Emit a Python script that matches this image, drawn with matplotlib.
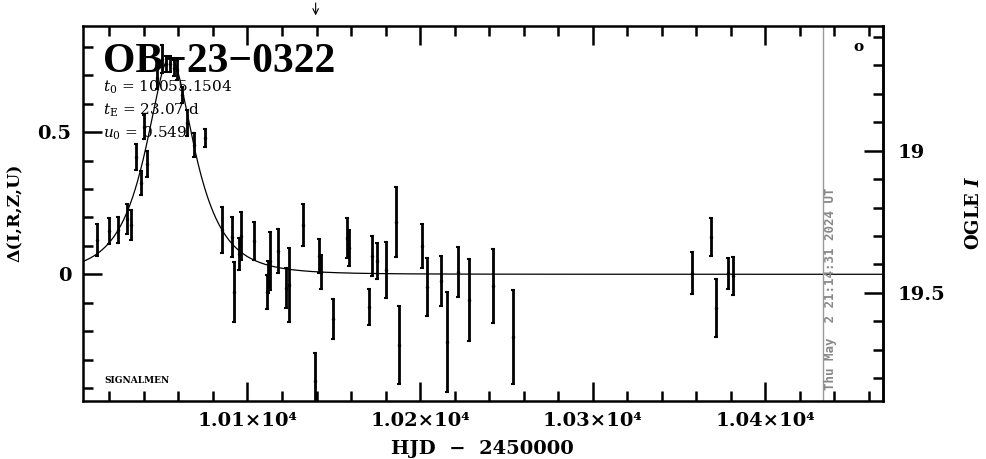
## OB-23-0322 light curve (delta mag vs HJD)

import numpy as np
import matplotlib
matplotlib.use('Agg')
from matplotlib import pyplot as plt
from matplotlib.ticker import MultipleLocator, FuncFormatter

plt.rcParams['font.family'] = ['DejaVu Serif']
plt.rcParams['mathtext.fontset'] = 'dejavuserif'

# Data
hjd = [10012.8, 10019.7, 10024.9, 10030.1, 10032.5, 10035.4, 10038.3, 10040.0,
       10041.7, 10047.5, 10050.4, 10052.8, 10055.1, 10057.4, 10059.1, 10062.0,
       10064.9, 10069.0, 10075.4,
       10085.0, 10091.2, 10092.3, 10095.2, 10096.5, 10103.9, 10111.1, 10112.1,
       10113.2, 10117.9, 10122.1, 10123.9, 10132.0, 10139.1, 10141.4, 10142.8,
       10149.4, 10157.4, 10159.0, 10170.3, 10172.0, 10175.1, 10180.1, 10185.9,
       10188.0, 10201.3, 10204.2, 10212.2, 10215.8, 10222.2, 10228.2, 10242.1,
       10254.1,
       10357.9, 10368.7, 10371.6, 10378.7, 10381.6]
dmag = [0.121, 0.152, 0.156, 0.195, 0.174, 0.413, 0.322, 0.519,
        0.388, 0.691, 0.758, 0.740, 0.740, 0.726, 0.719, 0.631,
        0.533, 0.456, 0.480,
        0.156, 0.131, -0.062, 0.071, 0.135, 0.117, -0.062, -0.010,
        0.046, 0.082, -0.048, -0.038, 0.174, -0.376, 0.064, 0.008,
        -0.157, 0.128, 0.093, -0.115, 0.064, 0.047, 0.015, 0.184,
        -0.249, 0.100, -0.045, -0.024, -0.238, 0.008, -0.090, -0.041,
        -0.221,
        0.005, 0.131, -0.119, 0.003, -0.006]
derr = [0.056, 0.046, 0.046, 0.053, 0.053, 0.046, 0.042, 0.042,
        0.046, 0.039, 0.049, 0.028, 0.028, 0.028, 0.035, 0.028,
        0.046, 0.042, 0.032,
        0.081, 0.070, 0.106, 0.056, 0.085, 0.067, 0.060, 0.056,
        0.102, 0.077, 0.070, 0.130, 0.074, 0.099, 0.060, 0.060,
        0.070, 0.070, 0.063, 0.063, 0.070, 0.063, 0.099, 0.123,
        0.137, 0.077, 0.102, 0.088, 0.176, 0.088, 0.144, 0.130,
        0.165,
        0.074, 0.067, 0.102, 0.056, 0.067]

# Fit parameters
t0 = 10055.1504
tE = 23.07
u0 = 0.549
I_base = 19.435
now_hjd = 10433.6
arrow_hjd = 10139.5

# Paczynski model
t = np.linspace(10004.5, 10468.2, 2000)
u = np.sqrt(u0**2 + ((t - t0) / tE)**2)
A = (u**2 + 2) / (u * np.sqrt(u**2 + 4))
model = 2.5 * np.log10(A)

fig = plt.figure(figsize=(9.86, 4.59), dpi=100)
ax = fig.add_axes([0.0839, 0.127, 0.8114, 0.817])

ax.plot(t, model, color='k', lw=0.9)
ax.errorbar(hjd, dmag, yerr=derr, fmt='.', ms=3, color='k',
            elinewidth=2, capsize=1.5, capthick=1.5)
ax.axvline(now_hjd, color='#999999', lw=1)

ax.set_xlim(10004.5, 10468.2)
ax.set_ylim(-0.445, 0.875)

for s in ax.spines.values():
    s.set_linewidth(1.8)

ax.xaxis.set_major_locator(MultipleLocator(100))
ax.xaxis.set_minor_locator(MultipleLocator(20))
ax.xaxis.set_major_formatter(FuncFormatter(lambda v, p: '%.2f×10⁴' % (v / 1e4)))
ax.yaxis.set_major_locator(MultipleLocator(0.5))
ax.yaxis.set_minor_locator(MultipleLocator(0.1))
ax.yaxis.set_major_formatter(FuncFormatter(lambda v, p: '%g' % v))
ax.tick_params(which='both', direction='in', top=True, right=False, width=1.8)
ax.tick_params(which='major', length=14, labelsize=14, pad=8)
ax.tick_params(which='minor', length=7)
for lab in ax.get_xticklabels() + ax.get_yticklabels():
    lab.set_fontweight('bold')

ax.set_xlabel('HJD  −  2450000', fontsize=14, fontweight='bold', labelpad=7)
ax.set_ylabel('Δ(I,R,Z,U)', fontsize=12.5, fontweight='bold', labelpad=10)

# OGLE I magnitude on the right
sec = ax.secondary_yaxis('right', functions=(lambda d: I_base - d, lambda m: I_base - m))
sec.yaxis.set_major_locator(MultipleLocator(0.5))
sec.yaxis.set_minor_locator(MultipleLocator(0.1))
sec.yaxis.set_major_formatter(FuncFormatter(lambda v, p: '%g' % v))
sec.tick_params(which='both', direction='in', width=1.8)
sec.tick_params(which='major', length=14, labelsize=14, pad=11)
sec.tick_params(which='minor', length=7)
for lab in sec.get_yticklabels():
    lab.set_fontweight('bold')
sec.spines['right'].set_linewidth(1.8)
sec.set_ylabel(r'OGLE $\mathbfit{I}$', fontsize=13, fontweight='bold', labelpad=14)

# Labels
ax.text(0.0254, 0.877, 'OB−23−0322', transform=ax.transAxes, fontsize=30,
        fontweight='bold', va='baseline', family='Liberation Serif')
ax.text(0.0254, 0.8365, r'$t_0$ = 10055.1504', transform=ax.transAxes, fontsize=11, va='center')
ax.text(0.0254, 0.775, r'$t_{\rm E}$ = 23.07 d', transform=ax.transAxes, fontsize=11, va='center')
ax.text(0.0254, 0.714, r'$u_0$ = 0.549', transform=ax.transAxes, fontsize=11, va='center')
ax.text(0.027, 0.055, 'SIGNALMEN', transform=ax.transAxes, fontsize=6.5,
        fontweight='bold', va='center')
ax.text(0.969, 0.943, 'o', transform=ax.transAxes, fontsize=11,
        fontweight='bold', ha='center', va='center')
ax.text(0.935, 0.0285, 'Thu May  2 21:14:31 2024 UT', transform=ax.transAxes,
        rotation=90, fontsize=9, fontweight='bold', color='#888888',
        family='DejaVu Sans Mono', ha='center', va='bottom')

ax.annotate('', xy=(arrow_hjd, 1.02), xytext=(arrow_hjd, 1.068),
            xycoords=('data', 'axes fraction'), annotation_clip=False,
            arrowprops=dict(arrowstyle='->', lw=0.8, color='k'))

fig.savefig('out.png', dpi=100)
